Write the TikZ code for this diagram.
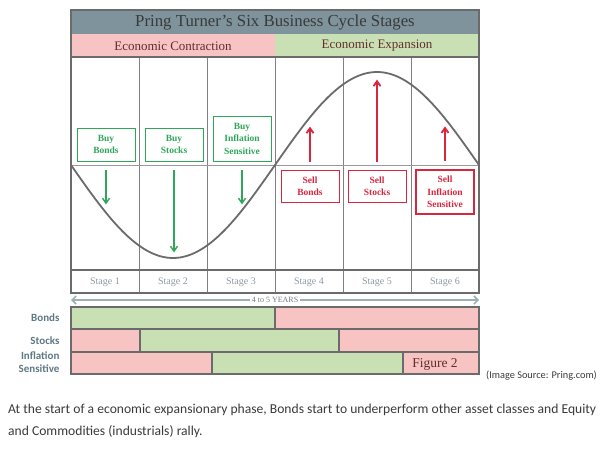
\documentclass[tikz,border=0pt]{standalone}
\usepackage{fontspec}
\setmainfont{Liberation Serif}
\newfontfamily\labelfont{Carlito}
\usetikzlibrary{arrows.meta}

\definecolor{titlegray}{HTML}{7E939B}
\definecolor{contrpink}{HTML}{F7C3C3}
\definecolor{expgreen}{HTML}{C9E0B4}
\definecolor{buygreen}{HTML}{2FA65A}
\definecolor{sellred}{HTML}{D7263D}
\definecolor{framegray}{HTML}{6B6B6B}
\definecolor{stagegray}{HTML}{8C9AA3}
\definecolor{rowblue}{HTML}{5E7884}
\definecolor{captiongray}{HTML}{3A3A3A}
\definecolor{yearsblue}{HTML}{9DB0B8}

\begin{document}
\begin{tikzpicture}[x=1pt,y=-1pt]

	\tikzset{buybox/.style={draw=buygreen, line width=0.8pt, text=buygreen, align=center, minimum width=58pt, inner sep=1pt, font=\fontsize{9.5}{12.5}\selectfont\bfseries}}
	\tikzset{sellbox/.style={draw=sellred, line width=0.8pt, text=sellred, align=center, minimum width=58pt, inner sep=1pt, font=\fontsize{9.5}{12.5}\selectfont\bfseries}}
	\tikzset{buyarrow/.style={-{Straight Barb[length=5pt,width=7pt]}, buygreen, line width=1.4pt}}
	\tikzset{sellarrow/.style={-{Straight Barb[length=5pt,width=7pt]}, sellred, line width=1.8pt}}
	\tikzset{stagelabel/.style={text=stagegray, font=\fontsize{10}{11}\selectfont}}
	\tikzset{rowlabel/.style={anchor=east, align=right, text=rowblue, font=\labelfont\fontsize{11}{13}\selectfont\bfseries}}
	\tikzset{barcell/.style={draw=framegray, line width=1.2pt}}

	% Parameters
	\def\xl{71}    % left edge
	\def\xr{479}   % right edge
	\def\ymid{165} % axis of the cycle
	\def\amp{93}   % amplitude of the cycle

	\useasboundingbox (0,0) rectangle (609,455);

	%title and phase bars
	\fill[titlegray] (\xl,10) rectangle (\xr,34);
	\fill[contrpink] (\xl,34) rectangle (275,57);
	\fill[expgreen] (275,34) rectangle (\xr,57);
	\node[text=captiongray, font=\fontsize{16.8}{19}\selectfont] (title) at (275,22) {Pring Turner's Six Business Cycle Stages};
	\node[text=captiongray!80!red, font=\fontsize{13}{15}\selectfont] (contraction) at (173,46) {Economic Contraction};
	\node[text=captiongray!80!red, font=\fontsize{13}{15}\selectfont] (expansion) at (377,46) {Economic Expansion};

	%stage columns
	\foreach \xc in {139,207,275,343,411}
		\draw[gray, line width=0.9pt] (\xc,57) -- (\xc,293);
	\draw[gray!80, line width=0.8pt] (\xl,\ymid) -- (\xr,\ymid);
	\draw[framegray, line width=1.6pt] (\xl,270) -- (\xr,270);
	\draw[framegray, line width=1.2pt] (\xl,57) -- (\xr,57);
	\draw[framegray, line width=1.6pt] (\xl,10) rectangle (\xr,293);

	\foreach \n/\xc in {1/105,2/173,3/241,4/309,5/377,6/445}
		\node[stagelabel] (stage\n) at (\xc,282) {Stage \n};

	%the cycle
	\draw[framegray, line width=1.8pt] plot[domain=\xl:\xr, samples=120] (\x, {\ymid+\amp*sin(0.882353*(\x-\xl))});

	%buy signals
	\node[buybox, minimum height=33pt] (buybonds) at (106,144.5) {Buy\\Bonds};
	\node[buybox, minimum height=33pt] (buystocks) at (174,144.5) {Buy\\Stocks};
	\node[buybox, minimum height=45pt] (buyinfl) at (242,138.5) {Buy\\Inflation\\Sensitive};
	\draw[buyarrow] ([yshift=-9pt]buybonds.south) -- ++(0,34);
	\draw[buyarrow] ([yshift=-9pt]buystocks.south) -- ++(0,82);
	\draw[buyarrow] ([yshift=-9pt]buyinfl.south) -- ++(0,34);

	%sell signals
	\node[sellbox, minimum height=32pt] (sellbonds) at (310,186) {Sell\\Bonds};
	\node[sellbox, minimum height=32pt] (sellstocks) at (377,186) {Sell\\Stocks};
	\node[sellbox, minimum height=44pt, line width=1.2pt] (sellinfl) at (445,192) {Sell\\Inflation\\Sensitive};
	\draw[sellarrow] ([yshift=8pt]sellbonds.north) -- ++(0,-35);
	\draw[sellarrow] ([yshift=8pt]sellstocks.north) -- ++(0,-82);
	\draw[sellarrow] ([yshift=8pt]sellinfl.north) -- ++(0,-35);

	%time span
	\coordinate (spanleft) at (\xl,300);
	\coordinate (spanright) at (\xr,300);
	\draw[{Straight Barb[length=4pt,width=8pt]}-{Straight Barb[length=4pt,width=8pt]}, yearsblue, line width=1.6pt] (spanleft) -- (spanright);
	\node[fill=white, inner sep=2pt, text=stagegray!80!black, font=\fontsize{8}{9}\selectfont] (years) at (275,300) {4 to 5 YEARS};

	%asset class bars
	\foreach \xa/\xb/\col/\ya/\yb in {
		\xl/275/expgreen/307/329, 275/\xr/contrpink/307/329,
		\xl/140/contrpink/329/352, 140/339/expgreen/329/352, 339/\xr/contrpink/329/352,
		\xl/212/contrpink/352/374, 212/403/expgreen/352/374, 403/\xr/contrpink/352/374}
		\draw[barcell, fill=\col] (\xa,\ya) rectangle (\xb,\yb);

	\node[rowlabel] (bonds) at (63,318) {Bonds};
	\node[rowlabel] (stocks) at (63,340.5) {Stocks};
	\node[rowlabel] (inflation) at (63,362.5) {Inflation\\Sensitive};
	\node[text=captiongray!80!red, font=\fontsize{13.5}{15}\selectfont] (figure) at (435,364) {Figure 2};

	\node[anchor=west, inner sep=0pt, text=captiongray, font=\labelfont\fontsize{10.3}{12}\selectfont] (source) at (486,376) {(Image Source: Pring.com)};

	%caption
	\node[anchor=west, inner sep=0pt, align=left, text=captiongray, font=\labelfont\fontsize{13.6}{22}\selectfont] (caption) at (8,421) {At the start of a economic expansionary phase, Bonds start to underperform other asset classes and Equity\\and Commodities (industrials) rally.};

\end{tikzpicture}
\end{document}
